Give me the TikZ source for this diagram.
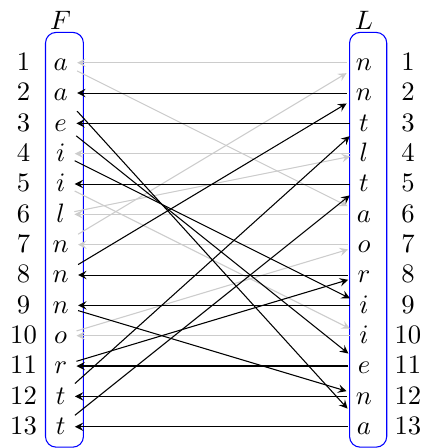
\documentclass[tikz,border=0pt]{standalone}
\usepackage{tikz}

\begin{document}
\begin{tikzpicture}[>=stealth, every node/.style={text height=1.6ex, text depth=0.25ex},
  pass/.style={->, color=black}, idle/.style={->, color=gray!40}]
\useasboundingbox (-0.8, 0.427) rectangle (4.78, -5.481);
\draw[blue, rounded corners=4pt] (-0.2, 0) rectangle (0.3, -5.47);
\draw[blue, rounded corners=4pt] (3.81, 0) rectangle (4.3, -5.47);
\draw (0, 0.14) node (Ftop) {$F$};
\draw (4, 0.14) node (Ltop) {$L$};
% rows: number, F, L, number
\draw (-0.49, -0.4) node (a1) {1};  \draw (0, -0.4) node (F1) {$a$};  \draw (4, -0.4) node (L1) {$n$};  \draw (4.58, -0.4) node (b1) {1};
\draw (-0.49, -0.8) node (a2) {2};  \draw (0, -0.8) node (F2) {$a$};  \draw (4, -0.8) node (L2) {$n$};  \draw (4.58, -0.8) node (b2) {2};
\draw (-0.49, -1.2) node (a3) {3};  \draw (0, -1.2) node (F3) {$e$};  \draw (4, -1.2) node (L3) {$t$};  \draw (4.58, -1.2) node (b3) {3};
\draw (-0.49, -1.6) node (a4) {4};  \draw (0, -1.6) node (F4) {$i$};  \draw (4, -1.6) node (L4) {$l$};  \draw (4.58, -1.6) node (b4) {4};
\draw (-0.49, -2.0) node (a5) {5};  \draw (0, -2.0) node (F5) {$i$};  \draw (4, -2.0) node (L5) {$t$};  \draw (4.58, -2.0) node (b5) {5};
\draw (-0.49, -2.4) node (a6) {6};  \draw (0, -2.4) node (F6) {$l$};  \draw (4, -2.4) node (L6) {$a$};  \draw (4.58, -2.4) node (b6) {6};
\draw (-0.49, -2.8) node (a7) {7};  \draw (0, -2.8) node (F7) {$n$};  \draw (4, -2.8) node (L7) {$o$};  \draw (4.58, -2.8) node (b7) {7};
\draw (-0.49, -3.2) node (a8) {8};  \draw (0, -3.2) node (F8) {$n$};  \draw (4, -3.2) node (L8) {$r$};  \draw (4.58, -3.2) node (b8) {8};
\draw (-0.49, -3.6) node (a9) {9};  \draw (0, -3.6) node (F9) {$n$};  \draw (4, -3.6) node (L9) {$i$};  \draw (4.58, -3.6) node (b9) {9};
\draw (-0.49, -4.0) node (a10) {10}; \draw (0, -4.0) node (F10) {$o$}; \draw (4, -4.0) node (L10) {$i$}; \draw (4.58, -4.0) node (b10) {10};
\draw (-0.49, -4.4) node (a11) {11}; \draw (0, -4.4) node (F11) {$r$}; \draw (4, -4.4) node (L11) {$e$}; \draw (4.58, -4.4) node (b11) {11};
\draw (-0.49, -4.8) node (a12) {12}; \draw (0, -4.8) node (F12) {$t$}; \draw (4, -4.8) node (L12) {$n$}; \draw (4.58, -4.8) node (b12) {12};
\draw (-0.49, -5.2) node (a13) {13}; \draw (0, -5.2) node (F13) {$t$}; \draw (4, -5.2) node (L13) {$a$}; \draw (4.58, -5.2) node (b13) {13};
% grey part of the cycle
\draw[idle] (L1) -- (F1);
\draw[idle] (L4) -- (F4);
\draw[idle] (L6) -- (F6);
\draw[idle] (L7) -- (F7);
\draw[idle] (L10) -- (F10);
\draw[idle] (F1) -- (L6);
\draw[idle] (F5) -- (L10);
\draw[idle] (F6) -- (L4);
\draw[idle] (F7) -- (L1);
\draw[idle] (F10) -- (L7);
% black part of the cycle
\draw[pass] (L2) -- (F2);
\draw[pass] (L3) -- (F3);
\draw[pass] (L5) -- (F5);
\draw[pass] (L8) -- (F8);
\draw[pass] (L9) -- (F9);
\draw[pass] (L11) -- (F11);
\draw[pass] (L12) -- (F12);
\draw[pass] (L13) -- (F13);
\draw[pass] (F2) -- (L13);
\draw[pass] (F3) -- (L11);
\draw[pass] (F4) -- (L9);
\draw[pass] (F8) -- (L2);
\draw[pass] (F9) -- (L12);
\draw[pass] (F11) -- (L8);
\draw[pass] (F12) -- (L3);
\draw[pass] (F13) -- (L5);
\end{tikzpicture}
\end{document}
